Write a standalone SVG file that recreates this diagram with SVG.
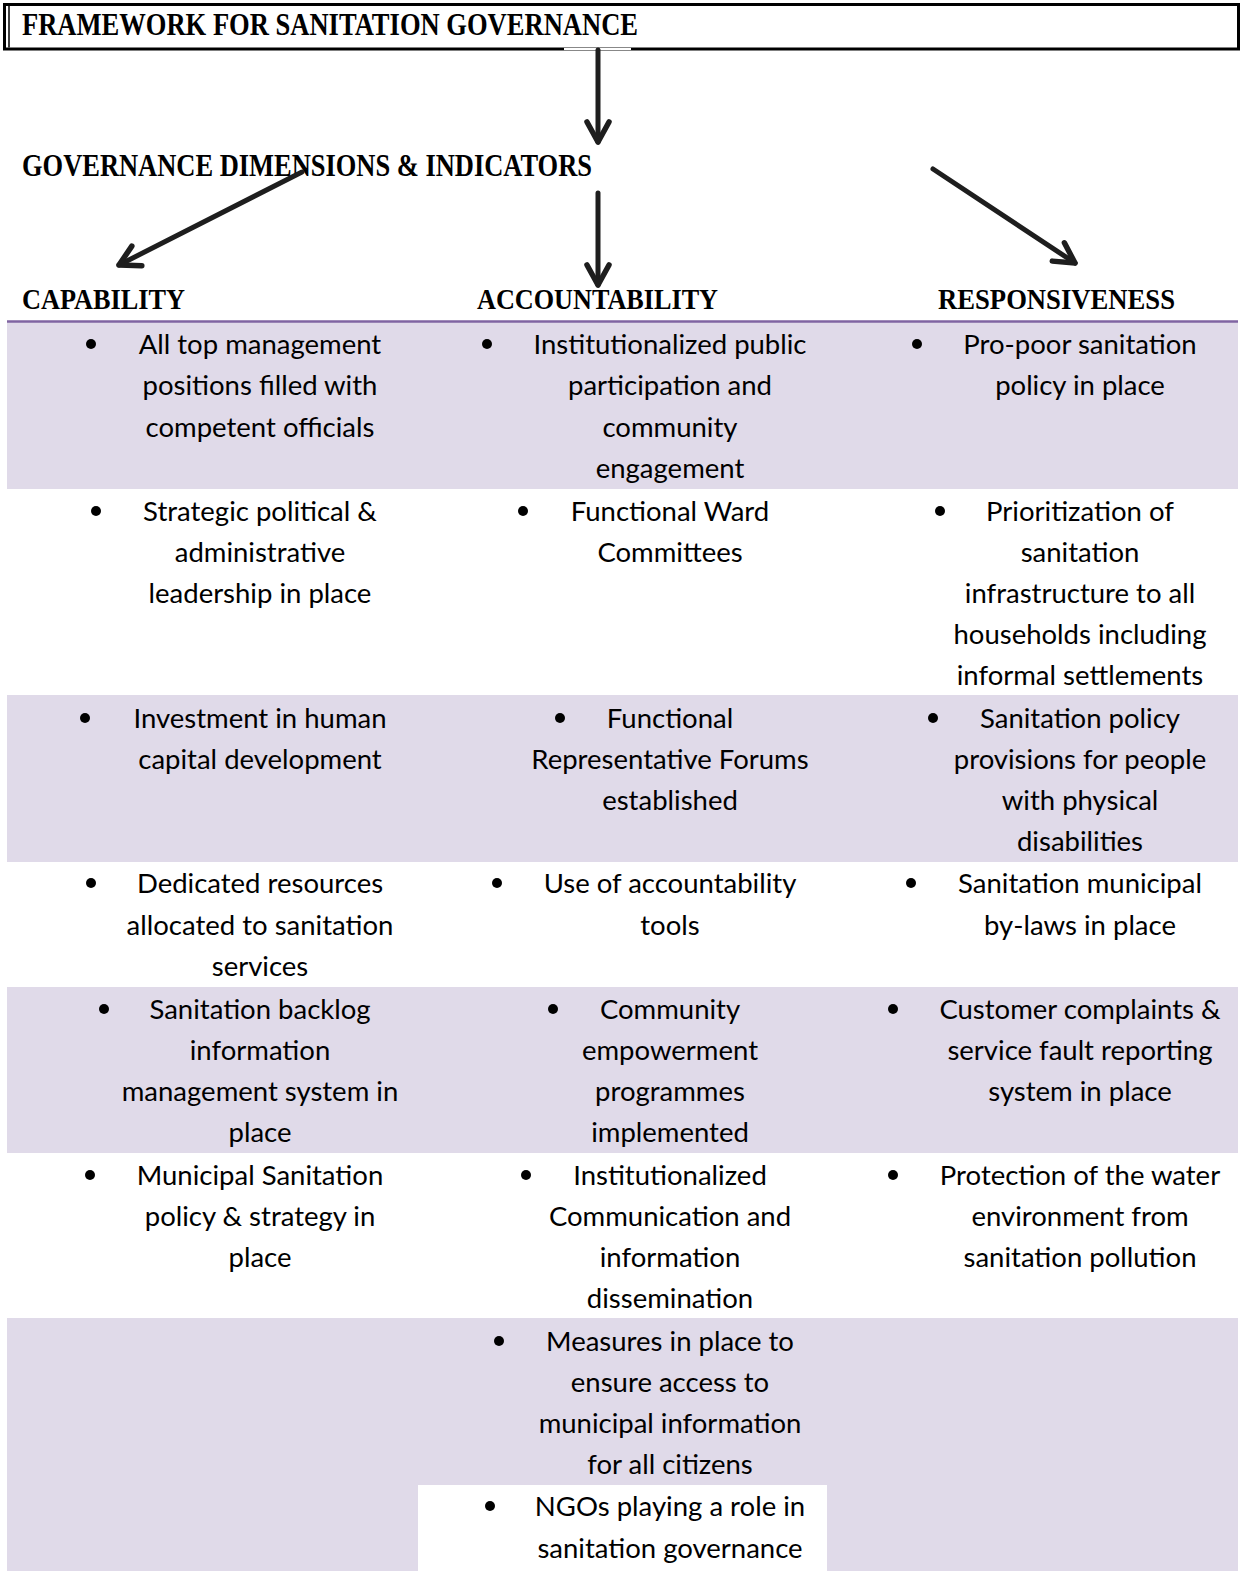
<svg xmlns="http://www.w3.org/2000/svg" width="1242" height="1571" viewBox="0 0 1242 1571">
<style>
.hd{font-family:"Liberation Serif",serif;font-weight:bold;fill:#000}
.tx{font-family:Lato,"Liberation Sans",sans-serif;font-size:27.5px;fill:#000;text-anchor:middle}
.sh{fill:#E0DAE9}
.ar{stroke:#1e1e1e;stroke-width:5;stroke-linecap:round;fill:none}
</style>
<defs>
<marker id="ah" markerUnits="userSpaceOnUse" markerWidth="40" markerHeight="40" refX="0" refY="0" orient="auto" overflow="visible">
<path d="M-20,-11 L0,0 L-20,11" fill="none" stroke="#1e1e1e" stroke-width="5.5" stroke-linecap="round" stroke-linejoin="round"/>
</marker>
</defs>
<rect width="1242" height="1571" fill="#fff"/>

<g id="rows">
<rect class="sh" x="7" y="322" width="1231" height="167"/>
<rect class="sh" x="7" y="695" width="1231" height="167"/>
<rect class="sh" x="7" y="987" width="1231" height="166"/>
<rect class="sh" x="7" y="1318" width="1231" height="253"/>
<rect fill="#fff" x="418" y="1485" width="409" height="86"/>
<line x1="7" y1="321.5" x2="1238" y2="321.5" stroke="#8064A2" stroke-width="2.5"/>
</g>

<g id="title">
<rect x="4.5" y="4.5" width="1234" height="44.5" fill="#fff" stroke="#000" stroke-width="3"/>
<line x1="9" y1="6" x2="9" y2="47.5" stroke="#000" stroke-width="1.5"/>
<rect x="564" y="46" width="67" height="6" fill="#fff"/>
<line x1="564" y1="47.5" x2="631" y2="47.5" stroke="#888" stroke-width="1.2"/>
<line x1="564" y1="50.5" x2="631" y2="50.5" stroke="#888" stroke-width="1.2"/>
<text class="hd" x="22" y="35" font-size="31" textLength="616" lengthAdjust="spacingAndGlyphs">FRAMEWORK FOR SANITATION GOVERNANCE</text>
</g>

<g id="dimensions">
<text class="hd" x="22" y="176" font-size="31" textLength="570" lengthAdjust="spacingAndGlyphs">GOVERNANCE DIMENSIONS &amp; INDICATORS</text>
</g>

<g id="capability">
<text class="hd" x="22" y="309" font-size="30" textLength="163" lengthAdjust="spacingAndGlyphs">CAPABILITY</text>
</g>
<g id="accountability">
<text class="hd" x="477" y="309" font-size="30" textLength="241" lengthAdjust="spacingAndGlyphs">ACCOUNTABILITY</text>
</g>
<g id="responsiveness">
<text class="hd" x="938" y="309" font-size="30" textLength="237" lengthAdjust="spacingAndGlyphs">RESPONSIVENESS</text>
</g>

<g id="connectors">
<line class="ar" x1="598" y1="50" x2="598" y2="142" marker-end="url(#ah)"/>
<line class="ar" x1="302" y1="172" x2="119" y2="265" marker-end="url(#ah)"/>
<line class="ar" x1="598" y1="193" x2="598" y2="285" marker-end="url(#ah)"/>
<line class="ar" x1="933" y1="169" x2="1075" y2="263" marker-end="url(#ah)"/>
</g>

<g id="bullets" fill="#000">
<circle cx="91" cy="344" r="5"/><circle cx="487" cy="344" r="5"/><circle cx="917" cy="344" r="5"/>
<circle cx="96" cy="511" r="5"/><circle cx="523" cy="511" r="5"/><circle cx="940" cy="511" r="5"/>
<circle cx="85" cy="718" r="5"/><circle cx="560" cy="718" r="5"/><circle cx="933" cy="718" r="5"/>
<circle cx="91" cy="883" r="5"/><circle cx="497" cy="883" r="5"/><circle cx="911" cy="883" r="5"/>
<circle cx="104" cy="1009" r="5"/><circle cx="553" cy="1009" r="5"/><circle cx="893" cy="1009" r="5"/>
<circle cx="90" cy="1175" r="5"/><circle cx="526" cy="1175" r="5"/><circle cx="893" cy="1175" r="5"/>
<circle cx="499" cy="1341" r="5"/>
<circle cx="490" cy="1506" r="5"/>
</g>

<g id="cap-1"><text class="tx" x="260" y="353.5">All top management</text><text class="tx" x="260" y="395">positions filled with</text><text class="tx" x="260" y="436.5">competent officials</text></g>
<g id="acc-1"><text class="tx" x="670" y="353.5">Institutionalized public</text><text class="tx" x="670" y="395">participation and</text><text class="tx" x="670" y="436.5">community</text><text class="tx" x="670" y="477.5">engagement</text></g>
<g id="res-1"><text class="tx" x="1080" y="353.5">Pro-poor sanitation</text><text class="tx" x="1080" y="395">policy in place</text></g>

<g id="cap-2"><text class="tx" x="260" y="520.5">Strategic political &amp;</text><text class="tx" x="260" y="561.5">administrative</text><text class="tx" x="260" y="602.5">leadership in place</text></g>
<g id="acc-2"><text class="tx" x="670" y="520.5">Functional Ward</text><text class="tx" x="670" y="561.5">Committees</text></g>
<g id="res-2"><text class="tx" x="1080" y="520.5">Prioritization of</text><text class="tx" x="1080" y="561.5">sanitation</text><text class="tx" x="1080" y="602.5">infrastructure to all</text><text class="tx" x="1080" y="643.5">households including</text><text class="tx" x="1080" y="684.5">informal settlements</text></g>

<g id="cap-3"><text class="tx" x="260" y="727.5">Investment in human</text><text class="tx" x="260" y="768.5">capital development</text></g>
<g id="acc-3"><text class="tx" x="670" y="727.5">Functional</text><text class="tx" x="670" y="768.5">Representative Forums</text><text class="tx" x="670" y="809.5">established</text></g>
<g id="res-3"><text class="tx" x="1080" y="727.5">Sanitation policy</text><text class="tx" x="1080" y="768.5">provisions for people</text><text class="tx" x="1080" y="809.5">with physical</text><text class="tx" x="1080" y="850.5">disabilities</text></g>

<g id="cap-4"><text class="tx" x="260" y="892.5">Dedicated resources</text><text class="tx" x="260" y="934.5">allocated to sanitation</text><text class="tx" x="260" y="975.5">services</text></g>
<g id="acc-4"><text class="tx" x="670" y="892.5">Use of accountability</text><text class="tx" x="670" y="934.5">tools</text></g>
<g id="res-4"><text class="tx" x="1080" y="892.5">Sanitation municipal</text><text class="tx" x="1080" y="934.5">by-laws in place</text></g>

<g id="cap-5"><text class="tx" x="260" y="1018.5">Sanitation backlog</text><text class="tx" x="260" y="1059.5">information</text><text class="tx" x="260" y="1100.5">management system in</text><text class="tx" x="260" y="1141.5">place</text></g>
<g id="acc-5"><text class="tx" x="670" y="1018.5">Community</text><text class="tx" x="670" y="1059.5">empowerment</text><text class="tx" x="670" y="1100.5">programmes</text><text class="tx" x="670" y="1141.5">implemented</text></g>
<g id="res-5"><text class="tx" x="1080" y="1018.5">Customer complaints &amp;</text><text class="tx" x="1080" y="1059.5">service fault reporting</text><text class="tx" x="1080" y="1100.5">system in place</text></g>

<g id="cap-6"><text class="tx" x="260" y="1184.5">Municipal Sanitation</text><text class="tx" x="260" y="1225.5">policy &amp; strategy in</text><text class="tx" x="260" y="1266.5">place</text></g>
<g id="acc-6"><text class="tx" x="670" y="1184.5">Institutionalized</text><text class="tx" x="670" y="1225.5">Communication and</text><text class="tx" x="670" y="1266.5">information</text><text class="tx" x="670" y="1307.5">dissemination</text></g>
<g id="res-6"><text class="tx" x="1080" y="1184.5">Protection of the water</text><text class="tx" x="1080" y="1225.5">environment from</text><text class="tx" x="1080" y="1266.5">sanitation pollution</text></g>

<g id="acc-7"><text class="tx" x="670" y="1350.5">Measures in place to</text><text class="tx" x="670" y="1391.5">ensure access to</text><text class="tx" x="670" y="1432.5">municipal information</text><text class="tx" x="670" y="1473.5">for all citizens</text></g>
<g id="acc-8"><text class="tx" x="670" y="1515.5">NGOs playing a role in</text><text class="tx" x="670" y="1557.5">sanitation governance</text></g>
</svg>
